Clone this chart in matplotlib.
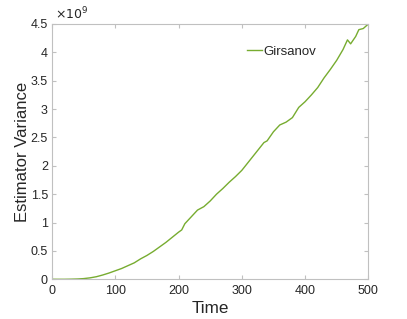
import numpy as np
import matplotlib
matplotlib.use('Agg')
import matplotlib.pyplot as plt
from matplotlib.ticker import FuncFormatter

# ---------- Data (variance in units of 1e9) ----------
time = [0, 10, 20, 30, 40, 50, 60, 70, 80, 90, 100, 110, 120, 130, 140, 150,
        160, 170, 180, 190, 200, 205, 210, 220, 230, 240, 250, 260, 270, 280,
        290, 300, 310, 320, 330, 335, 340, 345, 350, 360, 370, 380, 390, 400,
        410, 420, 430, 440, 450, 460, 467, 472, 480, 485, 492, 500]
variance_e9 = [0.0, 0.0, 0.0, 0.002, 0.005, 0.012, 0.025, 0.045, 0.075, 0.11,
               0.15, 0.19, 0.24, 0.29, 0.36, 0.42, 0.49, 0.57, 0.65, 0.74,
               0.83, 0.87, 0.98, 1.10, 1.22, 1.28, 1.38, 1.50, 1.60, 1.71,
               1.81, 1.92, 2.06, 2.20, 2.34, 2.41, 2.44, 2.52, 2.60, 2.72,
               2.77, 2.85, 3.03, 3.13, 3.25, 3.38, 3.55, 3.70, 3.86, 4.05,
               4.22, 4.15, 4.28, 4.40, 4.42, 4.50]
series_label = 'Girsanov'

variance = np.array(variance_e9) * 1e9

# ---------- Style ----------
plt.rcParams['font.family'] = ['Liberation Sans', 'DejaVu Sans']
text_col = '#262626'
axis_col = '#c0c0c0'

fig = plt.figure(figsize=(4.07, 3.19), dpi=100)
ax = fig.add_axes([0.1278, 0.1245, 0.7772, 0.8003])

ax.plot(time, variance, color='#77AC30', lw=1.0, label=series_label)

ax.set_xlim(0, 500)
ax.set_ylim(0, 4.5e9)
ax.set_xticks([0, 100, 200, 300, 400, 500])
ax.set_yticks(np.arange(0, 4.51e9, 0.5e9))
ax.yaxis.set_major_formatter(FuncFormatter(lambda v, p: '%g' % (v / 1e9)))

for s in ax.spines.values():
    s.set_color(axis_col)
    s.set_linewidth(0.8)
ax.tick_params(direction='in', length=3, width=0.8, color=axis_col,
               labelcolor=text_col, labelsize=9, top=True, right=True, pad=3)
ax.tick_params(axis='x', pad=4)

ax.set_xlabel('Time', fontsize=12.3, color=text_col, labelpad=3)
ax.set_ylabel('Estimator Variance', fontsize=12, color=text_col)
ax.yaxis.set_label_coords(-0.07, 0.5)
ax.text(0.01, 1.006, r'$\times10^{9}$', transform=ax.transAxes,
        fontsize=9, color=text_col, ha='left', va='bottom')

leg = ax.legend(loc='upper left', bbox_to_anchor=(0.6, 0.935), frameon=False,
                fontsize=9.5, handlelength=1.1, handletextpad=0.1,
                borderaxespad=0)
for t in leg.get_texts():
    t.set_color(text_col)

fig.savefig('out.png', dpi=100)
